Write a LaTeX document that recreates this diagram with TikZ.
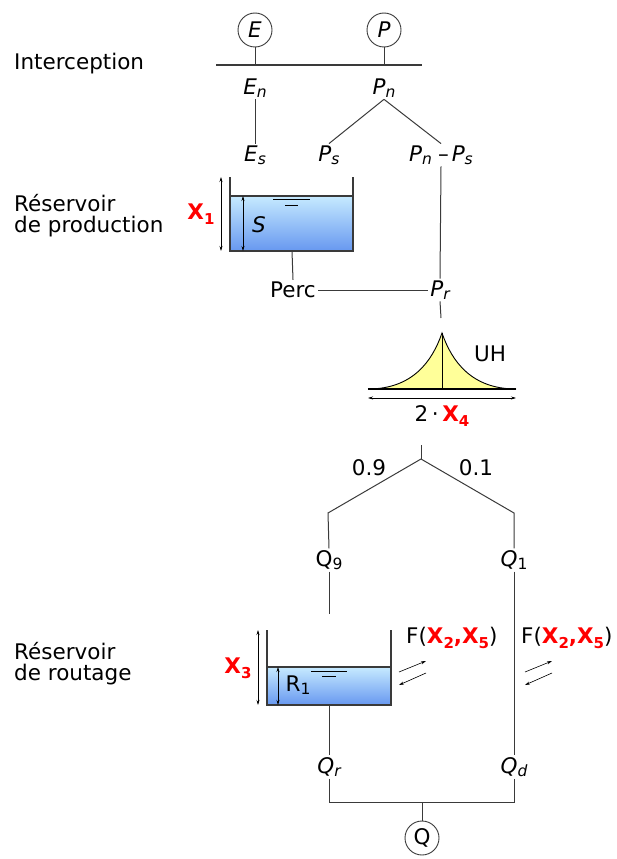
\documentclass[tikz,border=0pt]{standalone}
\usepackage{fontspec}
\setmainfont{DejaVu Sans}
\usetikzlibrary{arrows.meta}

\definecolor{xred}{HTML}{FF0000}
\definecolor{lgray}{HTML}{3A3A3A}
\definecolor{wtop}{HTML}{C6EAFF}
\definecolor{wbot}{HTML}{6798F0}
\definecolor{uhfill}{HTML}{FFFF99}

\newcommand{\sbs}[1]{\raisebox{-0.12em}{\fontsize{15.5}{16}\selectfont #1}}
\newcommand{\xsb}[1]{\raisebox{-0.25em}{\fontsize{15}{16}\selectfont #1}}
\newcommand{\vr}[2]{\textit{#1\sbs{#2}}}
\newcommand{\xr}[1]{\textcolor{xred}{\textbf{X\xsb{#1}}}}

\begin{document}
\begin{tikzpicture}[
  x=1pt, y=-1pt,
  lbl/.style={font=\fontsize{21.5}{25}\selectfont, inner sep=2pt},
  side/.style={lbl, anchor=west, align=left},
  io/.style={draw=lgray, circle, line width=0.9pt, minimum size=34pt, inner sep=0pt, font=\fontsize{21.5}{21.5}\selectfont},
  link/.style={draw=lgray, line width=1pt},
  tank/.style={draw=lgray, line width=1.4pt},
  dim/.style={{Stealth[length=5pt,width=3pt]}-{Stealth[length=5pt,width=3pt]}, line width=0.6pt},
  flux/.style={-{Stealth[length=5pt,width=3pt]}, line width=0.6pt}
]
\useasboundingbox (0,0) rectangle (616,859);

% inputs and interception
\node[io] (E) at (255,30) {\textit{E}};
\node[io] (P) at (384,30) {\textit{P}};
\coordinate (barl) at (216,65);
\coordinate (barr) at (422,65);
\draw[draw=lgray, line width=1.6pt] (barl) -- (barr);
\draw[link] (E) -- (E |- barl);
\draw[link] (P) -- (P |- barl);
\node[side] (icp) at (12,64) {Interception};
\node[lbl] (En) at (255,88) {\vr{E}{n}};
\node[lbl] (Pn) at (384,88) {\vr{P}{n}};
\node[lbl] (Es) at (255,155) {\vr{E}{s}};
\node[lbl] (Ps) at (329,155) {\vr{P}{s}};
\node[lbl] (PnPs) at (441,155) {\vr{P}{n}\hspace{6pt}–\hspace{3pt}\vr{P}{s}};
\draw[link] (En) -- (Es);
\draw[link] (Pn.south) -- (Ps.north);
\draw[link] (Pn.south) -- (PnPs.north);

% production store
\node[side] (prod) at (12,216) {Réservoir\\[-4pt]de production};
\fill[top color=wtop, bottom color=wbot] (230,196) rectangle (353,251);
\draw[tank] (230,177) -- (230,251) -- (353,251) -- (353,177);
\draw[tank] (230,196) -- (353,196);
\draw[line width=1pt] (273,199.5) -- (310,199.5);
\draw[line width=1pt] (285,205) -- (298,205);
\draw[dim] (221,177) -- (221,251);
\draw[dim] (243,196) -- (243,251);
\node[lbl] (x1) at (201,214) {\xr{1}};
\node[lbl] (S) at (259,225) {\textit{S}};
\coordinate (sout) at (292,251);
\node[lbl] (Perc) at (293,290) {Perc};
\node[lbl] (Pr) at (440,290) {\vr{P}{r}};
\draw[link] (sout) -- (Perc.north);
\draw[link] (Perc.east) -- (Pr.west);
\draw[link] (PnPs.south) -- (Pr.north);

% unit hydrograph
\coordinate (uhin) at (441,318);
\draw[link] (Pr.south) -- (uhin);
\coordinate (uhtop) at (442,333);
\fill[uhfill] (368,389) .. controls (412,389) and (432,362) .. (uhtop)
  .. controls (452,362) and (472,389) .. (516,389) -- cycle;
\draw[line width=0.9pt] (368,389) .. controls (412,389) and (432,362) .. (uhtop)
  .. controls (452,362) and (472,389) .. (516,389);
\draw[line width=1.1pt] (368,389) -- (516,389);
\draw[line width=1pt] (uhtop) -- (442,389);
\node[lbl] (UH) at (490,354) {UH};
\draw[dim] (368,398) -- (516,398);
\node[lbl] (x4) at (442,416) {2\,·\,\xr{4}};

% split
\coordinate (uhout) at (421,445);
\coordinate (split) at (421,459);
\coordinate (kl) at (328,513);
\coordinate (kr) at (514,513);
\draw[link] (uhout) -- (split);
\node[lbl] (c9) at (369,468) {0.9};
\node[lbl] (c1) at (476,468) {0.1};
\node[lbl] (Q9) at (329,560) {Q\sbs{9}};
\node[lbl] (Q1) at (514,560) {\textit{Q}\sbs{1}};
\draw[link] (split) -- (kl) -- (Q9.north);
\draw[link] (split) -- (kr) -- (Q1.north);

% routing store
\node[side] (rout) at (12,664) {Réservoir\\[-4pt]de routage};
\coordinate (rin) at (329,614);
\draw[link] (Q9.south) -- (rin);
\fill[top color=wtop, bottom color=wbot] (267,667) rectangle (391,705);
\draw[tank] (267,630) -- (267,705) -- (391,705) -- (391,630);
\draw[tank] (267,667) -- (391,667);
\draw[line width=1pt] (311,671) -- (347,671);
\draw[line width=1pt] (322,676) -- (336,676);
\draw[dim] (258,630) -- (258,705);
\draw[dim] (278,667) -- (278,705);
\node[lbl] (x3) at (238,668) {\xr{3}};
\node[lbl] (R1) at (298,685) {R\sbs{1}};
\node[lbl, anchor=west] (f1) at (404,638) {F(\textcolor{xred}{\xr{2}\textbf{,}\xr{5}})};
\node[lbl, anchor=west] (f2) at (519,638) {F(\textcolor{xred}{\xr{2}\textbf{,}\xr{5}})};
\draw[flux] (399,672) -- (426,661);
\draw[flux] (426,673) -- (399,685);
\draw[flux] (525,672) -- (552,661);
\draw[flux] (552,673) -- (525,685);
\coordinate (rout1) at (329,705);

% outflow
\node[lbl] (Qr) at (329,767) {\vr{Q}{r}};
\node[lbl] (Qd) at (514,767) {\vr{Q}{d}};
\draw[link] (rout1) -- (Qr.north);
\draw[link] (Q1.south) -- (Qd.north);
\coordinate (join) at (422,802);
\draw[link] (Qr.south) |- (join) -| (Qd.south);
\node[io] (Q) at (422,838) {Q};
\draw[link] (join) -- (Q);
\end{tikzpicture}
\end{document}
